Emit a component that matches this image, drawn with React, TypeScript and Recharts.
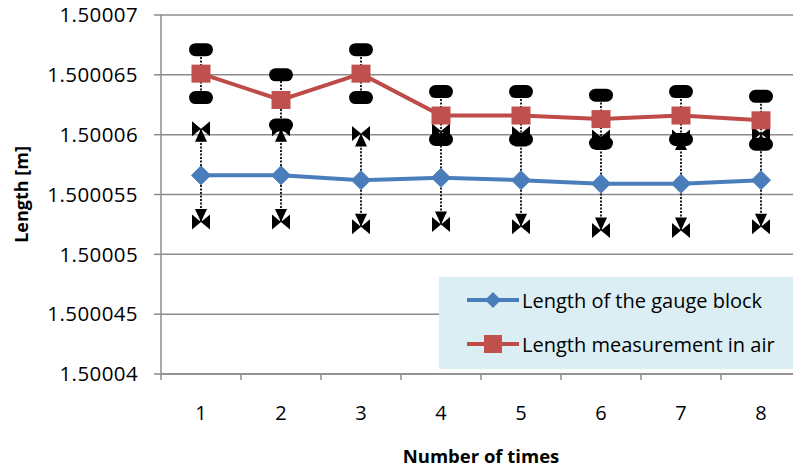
import React from 'react';
import { LineChart, Line, XAxis, YAxis, CartesianGrid, ErrorBar, Legend } from 'recharts';

const runs = [1, 2, 3, 4, 5, 6, 7, 8];
const gaugeBlock = [1.5000566, 1.5000566, 1.5000562, 1.5000564, 1.5000562, 1.5000559, 1.5000559, 1.5000562];
const airMeasurement = [1.5000651, 1.5000629, 1.5000651, 1.5000616, 1.5000616, 1.5000613, 1.5000616, 1.5000612];
const gaugeErr = [0.0000039, 0.0000039, 0.0000039, 0.0000039, 0.0000039, 0.0000039, 0.0000039, 0.0000039];
const airErr = [0.000002, 0.0000021, 0.000002, 0.000002, 0.000002, 0.000002, 0.000002, 0.000002];
const yTicks = [1.50004, 1.500045, 1.50005, 1.500055, 1.50006, 1.500065, 1.50007];
const seriesNames = ['Length of the gauge block', 'Length measurement in air'];

const BLUE = '#4a7ebb';
const RED = '#be4b48';
const GRID = '#8c8c8c';
const FONT = '"Open Sans", Lato, sans-serif';

const data = runs.map((n, i) => ({
  n,
  gauge: gaugeBlock[i],
  gaugeErr: gaugeErr[i],
  gaugeHi: gaugeBlock[i] + gaugeErr[i],
  gaugeLo: gaugeBlock[i] - gaugeErr[i],
  air: airMeasurement[i],
  airErr: airErr[i],
  airHi: airMeasurement[i] + airErr[i],
  airLo: airMeasurement[i] - airErr[i],
}));

// edge ticks sit between the runs, label ticks on them
const xTicks = [...runs.flatMap((n) => [n - 0.5, n]), runs[runs.length - 1] + 0.5];

const XTick = (props: any) => {
  const { x, y, payload } = props;
  const v = payload.value;
  if (!Number.isInteger(v)) {
    return <line x1={x} y1={y} x2={x} y2={y + 6} stroke={GRID} strokeWidth={1.5} />;
  }
  return (
    <text x={x} y={y} dy={46} textAnchor="middle" fontFamily={FONT} fontSize={20} fill="#000">
      {v}
    </text>
  );
};

const XTitle = (props: any) => {
  const { viewBox } = props;
  return (
    <text
      x={viewBox.x + viewBox.width / 2}
      y={viewBox.y + viewBox.height - 6}
      textAnchor="middle"
      fontFamily={FONT}
      fontSize={18.5}
      fontWeight="bold"
      fill="#000"
    >
      Number of times
    </text>
  );
};

const Diamond = (props: any) => {
  const { cx, cy, index } = props;
  if (cx == null || cy == null) return null;
  const s = 9.5;
  return (
    <polygon
      key={`d-${index}`}
      points={`${cx},${cy - s} ${cx + s},${cy} ${cx},${cy + s} ${cx - s},${cy}`}
      fill={BLUE}
      stroke={BLUE}
    />
  );
};

const Square = (props: any) => {
  const { cx, cy, index } = props;
  if (cx == null || cy == null) return null;
  return <rect key={`s-${index}`} x={cx - 9.5} y={cy - 9} width={19} height={18} fill="#c0504d" />;
};

const RoundCap = (props: any) => {
  const { cx, cy, index } = props;
  if (cx == null || cy == null) return null;
  return <rect key={`r-${index}`} x={cx - 12} y={cy - 6.5} width={24} height={13} rx={6.5} fill="#000" />;
};

const arrowCap = (dir: number) => (props: any) => {
  const { cx, cy, index } = props;
  if (cx == null || cy == null) return null;
  // dir -1 = upper end (arrow points up), 1 = lower end
  return (
    <g key={`a-${dir}-${index}`} fill="#000">
      <polygon points={`${cx - 9},${cy - 7.5} ${cx},${cy} ${cx - 9},${cy + 7.5}`} />
      <polygon points={`${cx + 9},${cy - 7.5} ${cx},${cy} ${cx + 9},${cy + 7.5}`} />
      <polygon points={`${cx},${cy} ${cx - 6},${cy - dir * 13} ${cx + 6},${cy - dir * 13}`} />
    </g>
  );
};

const LegendBox = () => (
  <div
    style={{
      background: '#dbeef4',
      width: '100%',
      height: '100%',
      boxSizing: 'border-box',
      padding: '12px 0 0 28px',
      fontFamily: FONT,
      fontSize: 20,
      color: '#000',
    }}
  >
    {seriesNames.map((name, i) => (
      <div key={name} style={{ display: 'flex', alignItems: 'center', height: 22, marginBottom: 22 }}>
        <svg width={52} height={22} style={{ marginRight: 3 }}>
          <line x1={0} y1={11} x2={52} y2={11} stroke={i === 0 ? BLUE : RED} strokeWidth={4} />
          {i === 0 ? (
            <polygon points="26,3 34,11 26,19 18,11" fill={BLUE} />
          ) : (
            <rect x={17} y={2} width={18} height={18} fill="#c0504d" />
          )}
        </svg>
        <span>{name}</span>
      </div>
    ))}
  </div>
);

export default function App() {
  return (
    <div style={{ position: 'fixed', left: 0, top: 0, width: 793, height: 469, overflow: 'hidden', background: '#fff' }}>
      <LineChart width={810} height={469} data={data} margin={{ top: 15, right: 9, bottom: 0, left: 0 }}>
        <CartesianGrid vertical={false} stroke={GRID} strokeWidth={1.5} />
        <XAxis
          dataKey="n"
          type="number"
          domain={[0.5, 8.5]}
          ticks={xTicks}
          interval={0}
          tick={<XTick />}
          tickLine={false}
          tickSize={0}
          tickMargin={0}
          height={95}
          axisLine={{ stroke: GRID, strokeWidth: 1.5 }}
          label={<XTitle />}
        />
        <YAxis
          type="number"
          domain={[1.50004, 1.50007]}
          ticks={yTicks}
          interval={0}
          width={161}
          tickSize={7}
          tickMargin={16}
          tickLine={{ stroke: GRID, strokeWidth: 1.5 }}
          axisLine={{ stroke: GRID, strokeWidth: 1.5 }}
          tickFormatter={(v: number) => String(parseFloat(v.toFixed(6)))}
          tick={{ fontFamily: FONT, fontSize: 20.5, fill: '#000', letterSpacing: 0.4 }}
          label={{
            value: 'Length [m]',
            angle: -90,
            position: 'insideLeft',
            offset: 22,
            style: { textAnchor: 'middle', fontFamily: FONT, fontSize: 18, fontWeight: 'bold', fill: '#000' },
          }}
        />
        <Legend
          layout="vertical"
          align="center"
          verticalAlign="middle"
          content={<LegendBox />}
          wrapperStyle={{ position: 'absolute', left: 439, top: 277, width: 360, height: 92 }}
        />
        <Line dataKey="gauge" stroke="none" dot={false} legendType="none" isAnimationActive={false}>
          <ErrorBar dataKey="gaugeErr" width={0} stroke="#222" strokeWidth={2} strokeDasharray="2 1.5" isAnimationActive={false} />
        </Line>
        <Line dataKey="air" stroke="none" dot={false} legendType="none" isAnimationActive={false}>
          <ErrorBar dataKey="airErr" width={0} stroke="#222" strokeWidth={2} strokeDasharray="2 1.5" isAnimationActive={false} />
        </Line>
        <Line dataKey="gaugeHi" stroke="none" dot={arrowCap(-1)} legendType="none" isAnimationActive={false} />
        <Line dataKey="gaugeLo" stroke="none" dot={arrowCap(1)} legendType="none" isAnimationActive={false} />
        <Line dataKey="airHi" stroke="none" dot={RoundCap} legendType="none" isAnimationActive={false} />
        <Line dataKey="airLo" stroke="none" dot={RoundCap} legendType="none" isAnimationActive={false} />
        <Line dataKey="gauge" name={seriesNames[0]} stroke={BLUE} strokeWidth={4} dot={Diamond} activeDot={false} isAnimationActive={false} />
        <Line dataKey="air" name={seriesNames[1]} stroke={RED} strokeWidth={4} dot={Square} activeDot={false} isAnimationActive={false} />
      </LineChart>
    </div>
  );
}
